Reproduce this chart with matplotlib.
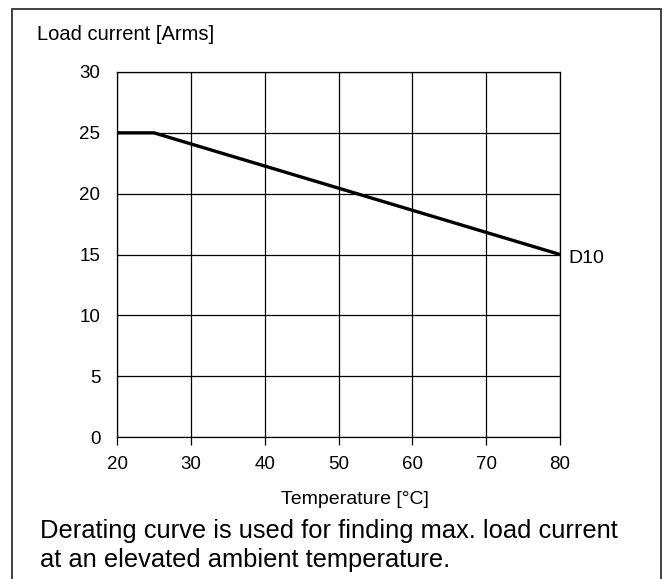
import matplotlib
matplotlib.use('Agg')
import matplotlib.pyplot as plt
import matplotlib.patches as mpatches

plt.rcParams['font.family'] = ['Liberation Sans', 'DejaVu Sans']

# derating curve D10
temp = [20, 25, 80]
current = [25, 25, 15]
xticks = [20, 30, 40, 50, 60, 70, 80]
yticks = [0, 5, 10, 15, 20, 25, 30]

W, H = 664, 579
fig = plt.figure(figsize=(W / 100, H / 100), dpi=100, facecolor='white')

# outer frame
fig.patches.append(mpatches.Rectangle((12 / W, -0.05), 649 / W, 1 - 9 / H + 0.05,
                                      transform=fig.transFigure, fill=False,
                                      edgecolor='#333333', linewidth=1.3))

ax = fig.add_axes([117 / W, 1 - 437 / H, (560 - 117) / W, (437 - 72) / H])
ax.plot(temp, current, color='black', linewidth=2.4, solid_capstyle='butt', zorder=3)
ax.set_xlim(20, 80)
ax.set_ylim(0, 30)
ax.set_xticks(xticks)
ax.set_yticks(yticks)
ax.grid(True, color='black', linewidth=0.9)
for s in ax.spines.values():
    s.set_linewidth(0.9)
ax.tick_params(axis='x', direction='out', length=6, width=0.9, labelsize=13.5, pad=8)
ax.tick_params(axis='y', length=0, labelsize=13.5, pad=12)

ax.text(81.1, 14.7, 'D10', fontsize=14, va='center', ha='left')

fig.text(37 / W, 1 - 34 / H, 'Load current [Arms]', fontsize=14.5, va='center', ha='left')
fig.text(355 / W, 1 - 499 / H, 'Temperature [°C]', fontsize=14, va='center', ha='center')

fig.text(40 / W, 1 - 531 / H, 'Derating curve is used for finding max. load current',
         fontsize=18.4, va='center', ha='left')
fig.text(40 / W, 1 - 560 / H, 'at an elevated ambient temperature.',
         fontsize=18.4, va='center', ha='left')

fig.savefig('out.png', dpi=100, facecolor='white')
